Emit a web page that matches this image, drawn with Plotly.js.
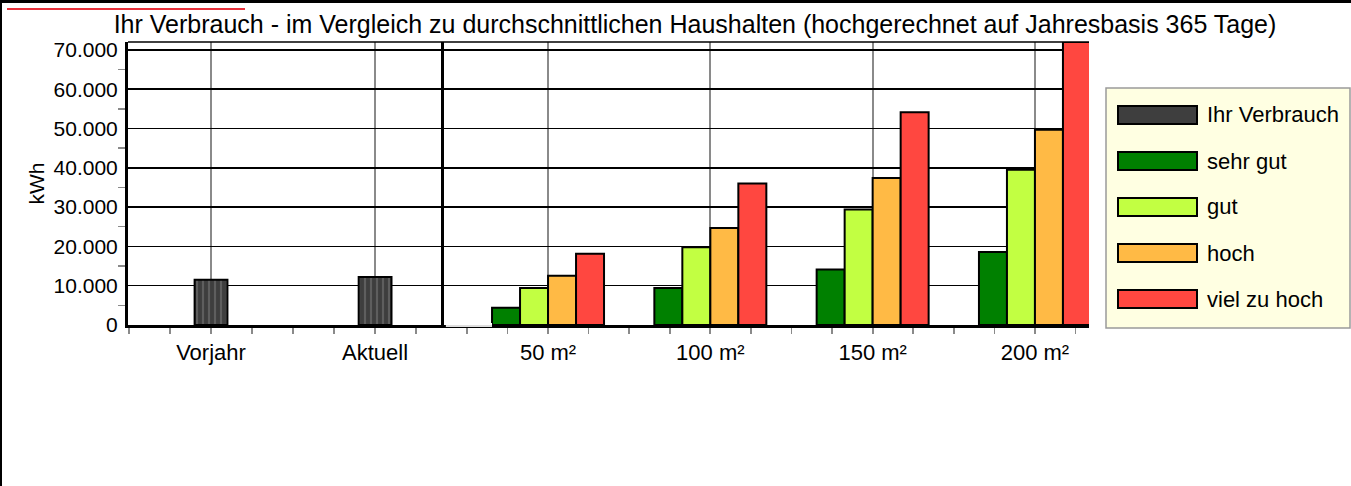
<!DOCTYPE html>
<html>
<head>
<meta charset="utf-8">
<script src="https://cdn.plot.ly/plotly-3.0.1.min.js"></script>
<style>
  html, body { margin: 0; padding: 0; background: #fff; }
  #chart { width: 1351px; height: 486px; }
</style>
</head>
<body>
<div id="chart"></div>
<script>
// ---- data ----
const chartTitle = 'Ihr Verbrauch - im Vergleich zu durchschnittlichen Haushalten (hochgerechnet auf Jahresbasis 365 Tage)';
const yTitle = 'kWh';
const categoriesLeft = ['Vorjahr', 'Aktuell'];
const ihrVerbrauch = [11500, 12200];
const categoriesRight = ['50 m²', '100 m²', '150 m²', '200 m²'];
const sehrGut = [4400, 9400, 14100, 18600];
const gut = [9400, 19800, 29400, 39500];
const hoch = [12500, 24700, 37400, 49700];
const vielZuHoch = [18100, 36000, 54100, 72000];
const seriesNames = ['Ihr Verbrauch', 'sehr gut', 'gut', 'hoch', 'viel zu hoch'];
const seriesColors = ['#3e3e3e', '#008000', '#c2ff42', '#ffba45', '#ff4740'];

// ---- geometry helpers (pixels -> paper) ----
const W = 1351, H = 486;
const PL = 128, PR = 1089, PT = 42, PB = 325;
const px = x => (x - PL) / (PR - PL);
const py = y => (PB - y) / (PB - PT);
const split = px(444);

const font = 'Liberation Sans, Arial, sans-serif';
const idxL = categoriesLeft.map((_, i) => i);
const idxR = categoriesRight.map((_, i) => i);

const outline = { color: '#000', width: 2 };
const traces = [
  {
    type: 'bar', name: seriesNames[0], x: idxL, y: ihrVerbrauch, xaxis: 'x', yaxis: 'y',
    width: 0.2, showlegend: false, hoverinfo: 'y',
    marker: { color: seriesColors[0], line: outline,
      pattern: { shape: '|', fgcolor: '#5e5e5e', bgcolor: seriesColors[0], size: 6, solidity: 0.35 } }
  }
];
[sehrGut, gut, hoch, vielZuHoch].forEach((vals, k) => {
  traces.push({
    type: 'bar', name: seriesNames[k + 1], x: idxR, y: vals, xaxis: 'x2', yaxis: 'y2',
    showlegend: false, hoverinfo: 'y',
    marker: { color: seriesColors[k + 1], line: outline }
  });
});

const gridGray = '#8a8a8a';
const xCommon = {
  tickmode: 'array', showgrid: true, gridcolor: gridGray, gridwidth: 2,
  showline: true, linecolor: '#000', linewidth: 3, zeroline: false,
  ticks: 'outside', ticklen: 6, tickwidth: 2, tickcolor: gridGray, ticklabelstandoff: 0,
  minor: { dtick: 0.25, tick0: 0, ticks: 'outside', ticklen: 6, tickwidth: 1.5, tickcolor: gridGray, showgrid: false },
  tickfont: { family: font, size: 22, color: '#000' }, fixedrange: true
};
const yCommon = {
  range: [0, 72000], dtick: 10000, tick0: 0, showgrid: true, gridcolor: '#000', gridwidth: 1.5,
  showline: true, linecolor: '#000', linewidth: 3, zeroline: false, fixedrange: true
};

// legend drawn manually (wide swatches)
const shapes = [
  // plot top border
  { type: 'line', xref: 'paper', yref: 'paper', x0: 0, x1: 1, y0: 1, y1: 1, line: { color: '#000', width: 1.5 } },
  // gap in baseline between panels
  { type: 'line', xref: 'paper', yref: 'paper', x0: split + 0.002, x1: px(492), y0: py(325), y1: py(325), line: { color: '#fff', width: 4 } },
  { type: 'line', xref: 'paper', yref: 'paper', x0: split + 0.002, x1: px(492), y0: py(326), y1: py(326), line: { color: '#bdbdbd', width: 1 } },
  // outer frame
  { type: 'line', xref: 'paper', yref: 'paper', x0: px(0), x1: px(W), y0: py(1.5), y1: py(1.5), line: { color: '#000', width: 3 } },
  { type: 'line', xref: 'paper', yref: 'paper', x0: px(1), x1: px(1), y0: py(0), y1: py(H), line: { color: '#000', width: 2 } },
  // red accent line
  { type: 'line', xref: 'paper', yref: 'paper', x0: px(7), x1: px(245), y0: py(9), y1: py(9), line: { color: '#e8303a', width: 2 } },
  // legend box
  { type: 'rect', xref: 'paper', yref: 'paper', x0: px(1106), x1: px(1350), y0: py(88), y1: py(328),
    fillcolor: '#ffffe2', line: { color: '#9a9a9a', width: 1.5 } }
];
const annotations = [];
const legendY = [115, 161, 207, 253, 299];
seriesNames.forEach((name, i) => {
  shapes.push({ type: 'rect', xref: 'paper', yref: 'paper', x0: px(1118), x1: px(1197),
    y0: py(legendY[i] - 9), y1: py(legendY[i] + 9), fillcolor: seriesColors[i], line: { color: '#000', width: 2 } });
  annotations.push({ xref: 'paper', yref: 'paper', x: px(1205), y: py(legendY[i]), xanchor: 'left', yanchor: 'middle',
    text: name, showarrow: false, font: { family: font, size: 22, color: '#000' } });
});

const layout = {
  width: W, height: H,
  margin: { l: PL, r: W - PR, t: PT, b: H - PB, pad: 0 },
  paper_bgcolor: '#fff', plot_bgcolor: '#fff',
  font: { family: font, size: 21, color: '#000' },
  separators: ',.',
  showlegend: false,
  barmode: 'group', bargap: 0.31, bargroupgap: 0,
  title: { text: chartTitle, xref: 'container', yref: 'container', x: 695 / W, y: 1 - 24 / H,
    xanchor: 'center', yanchor: 'middle', font: { family: font, size: 25, color: '#000' } },
  xaxis: Object.assign({}, xCommon, { domain: [0, split], range: [-0.506, 1.42], anchor: 'y',
    tickvals: idxL, ticktext: categoriesLeft }),
  xaxis2: Object.assign({}, xCommon, { domain: [split, 1], range: [-0.641, 3.333], anchor: 'y2',
    tickvals: idxR, ticktext: categoriesRight }),
  yaxis: Object.assign({}, yCommon, { anchor: 'x', tickformat: ',d', ticks: '', ticklabelstandoff: 3,
    tickfont: { family: font, size: 21, color: '#000' },
    minor: { dtick: 5000, tick0: 0, ticks: 'outside', ticklen: 7, tickwidth: 1.5, tickcolor: gridGray, showgrid: false },
    title: { text: yTitle, standoff: 4, font: { family: font, size: 21, color: '#000' } } }),
  yaxis2: Object.assign({}, yCommon, { anchor: 'x2', matches: 'y', showticklabels: false, ticks: '' }),
  shapes: shapes,
  annotations: annotations
};

Plotly.newPlot('chart', traces, layout, { displayModeBar: false, staticPlot: true });
</script>
</body>
</html>
